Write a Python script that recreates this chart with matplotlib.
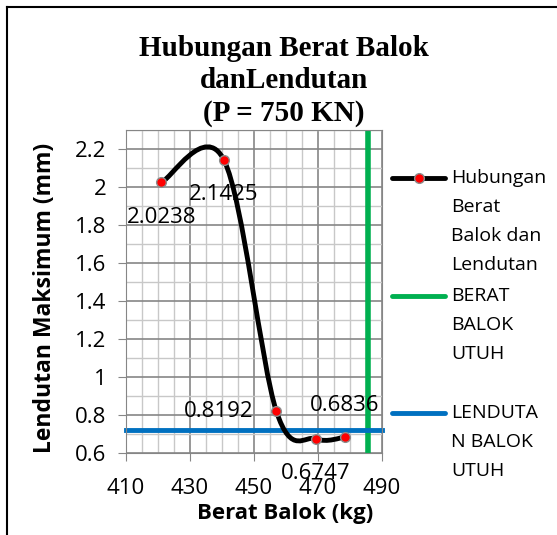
import numpy as np
import matplotlib.pyplot as plt
from matplotlib.path import Path
from matplotlib.patches import PathPatch
from matplotlib.lines import Line2D

# data
berat = [421.0, 440.6, 457.0, 469.4, 478.4]
lendutan = [2.0238, 2.1425, 0.8192, 0.6747, 0.6836]
label_text = ['2.0238', '2.1425', '0.8192', '0.6747', '0.6836']
label_offset = [(0, -35), (0, -35), (-58, 0), (0, -35), (0, 32)]
berat_utuh = 485.5
lendutan_utuh = 0.72
x_ticks = [410, 430, 450, 470, 490]
y_ticks = [0.6, 0.8, 1.0, 1.2, 1.4, 1.6, 1.8, 2.0, 2.2]
y_tick_labels = ['0.6', '0.8', '1', '1.2', '1.4', '1.6', '1.8', '2', '2.2']

W, H = 557, 535
fig = plt.figure(figsize=(W / 100, H / 100), dpi=100)
ax = fig.add_axes([126 / W, 1 - 453 / H, 256 / W, 323 / H])


def px(x, y):
    return x / W, 1 - y / H


# smoothed line (Excel style bezier through the points)
pts = np.column_stack([berat, lendutan])
n = len(pts)
verts = [pts[0]]
codes = [Path.MOVETO]
for i in range(n - 1):
    p_prev = pts[max(i - 1, 0)]
    p0 = pts[i]
    p1 = pts[i + 1]
    p_next = pts[min(i + 2, n - 1)]
    verts += [p0 + (p1 - p_prev) / 6, p1 - (p_next - p0) / 6, p1]
    codes += [Path.CURVE4] * 3
ax.add_patch(PathPatch(Path(verts, codes), facecolor='none', edgecolor='black',
                       lw=3.5, capstyle='round', zorder=3))
ax.plot(berat, lendutan, linestyle='none', marker='o', markersize=7,
        markerfacecolor='#ff0000', markeredgecolor='#8c8c8c', markeredgewidth=1, zorder=4)

ax.axvline(berat_utuh, color='#00b050', lw=4, zorder=2)
ax.axhline(lendutan_utuh, color='#0070c0', lw=3.5, zorder=2, clip_on=False)

for x, y, t, off in zip(berat, lendutan, label_text, label_offset):
    ax.annotate(t, (x, y), xytext=off, textcoords='offset pixels', ha='center', va='center',
                fontsize=16, family='Open Sans', color='black')

ax.set_xlim(410, 490)
ax.set_ylim(0.6, 2.3)
ax.set_xticks(x_ticks)
ax.set_xticks(np.arange(410, 491, 5), minor=True)
ax.set_yticks(y_ticks)
ax.set_yticklabels(y_tick_labels)
ax.set_yticks(np.arange(0.6, 2.31, 0.1), minor=True)
ax.grid(which='major', color='#868686', lw=1.2)
ax.grid(which='minor', color='#c8c8c8', lw=1)
ax.set_axisbelow(True)
for s in ax.spines.values():
    s.set_color('#868686')
ax.tick_params(which='major', length=6, color='#868686', labelsize=16, pad=8)
ax.tick_params(which='minor', length=0)
ax.tick_params(axis='x', pad=12)
for lab in ax.get_xticklabels() + ax.get_yticklabels():
    lab.set_family('Open Sans')

fig.text(*px(284, 35), 'Hubungan Berat Balok\ndanLendutan\n(P = 750 KN)', ha='center', va='top',
         fontsize=21, fontweight='bold', family='Liberation Serif', linespacing=1.25)
fig.text(*px(45, 298), 'Lendutan Maksimum (mm)', rotation=90, ha='center', va='center',
         fontsize=16.5, fontweight='bold', family='Open Sans')
fig.text(*px(285, 513), 'Berat Balok (kg)', ha='center', va='center',
         fontsize=16, fontweight='bold', family='Open Sans')

# legend drawn by hand so the key sits on the first text line
legend_rows = [('Hubungan\nBerat\nBalok dan\nLendutan', 'black', True, 178),
               ('BERAT\nBALOK\nUTUH', '#00b050', False, 296),
               ('LENDUTA\nN BALOK\nUTUH', '#0070c0', False, 413)]
for text, col, marker, y in legend_rows:
    x0, y0 = px(392, y)
    x1, _ = px(445, y)
    fig.add_artist(Line2D([x0, x1], [y0, y0], color=col, lw=3.5, solid_capstyle='round'))
    if marker:
        fig.add_artist(Line2D([(x0 + x1) / 2], [y0], marker='o', markersize=7,
                              markerfacecolor='#ff0000', markeredgecolor='#8c8c8c'))
    for k, line in enumerate(text.split('\n')):
        fig.text(*px(451, y + 29 * k), line, ha='left', va='center', fontsize=14, family='Open Sans')

# chart area border (top and left)
fig.add_artist(Line2D([7 / W, 1], [1 - 7 / H, 1 - 7 / H], color='black', lw=1.5))
fig.add_artist(Line2D([7 / W, 7 / W], [0, 1 - 7 / H], color='black', lw=1.5))

fig.savefig('out.png', dpi=100)
